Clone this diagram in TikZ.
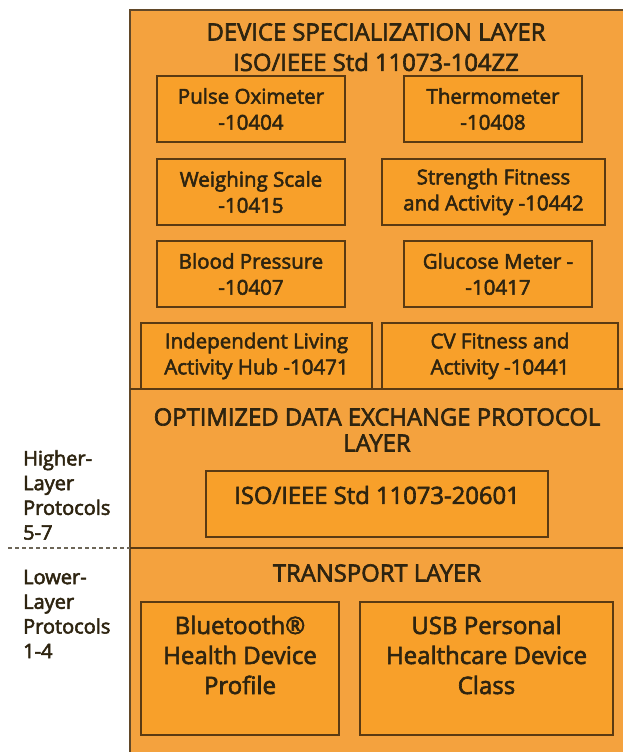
\documentclass[tikz,border=0pt]{standalone}
\usepackage{fontspec}
\setmainfont{Open Sans}[FakeBold=2.6]
\begin{document}
\begin{tikzpicture}[x=1pt,y=-1pt,
  txt/.style={text=textc, align=center, inner sep=0pt},
  title/.style={txt, font=\fontsize{23.8}{30}\selectfont},
  lbl/.style={txt, font=\fontsize{20.5}{26}\selectfont},
  big/.style={txt, font=\fontsize{24}{30}\selectfont},
  side/.style={txt, align=left, anchor=west, font=\fontsize{20}{24.7}\selectfont},
  ibox/.style={draw=edgec, line width=1.6pt, fill=innerc, inner sep=0pt},
]
\definecolor{outerc}{HTML}{F4A23E}
\definecolor{innerc}{HTML}{F8A02A}
\definecolor{edgec}{HTML}{5A3A12}
\definecolor{textc}{HTML}{2E2410}
\useasboundingbox (0,0) rectangle (622,752);
\fill[white] (0,0) rectangle (622,752);
% outer stack
\fill[outerc] (130,10) rectangle (626,756);
\draw[edgec!80!gray, line width=1.8pt] (626,10) -- (130,10) -- (130,756);
\coordinate (d1l) at (130,389);
\coordinate (d1r) at (626,389);
\coordinate (d2l) at (130,548);
\coordinate (d2r) at (626,548);
\draw[edgec, line width=1.6pt] (d1l) -- (d1r);
\draw[edgec, line width=1.6pt] (d2l) -- (d2r);
% device specialization layer
\node[title] (t1) at (376,32) {DEVICE SPECIALIZATION LAYER};
\node[title] (t2) at (376,62) {ISO/IEEE Std 11073-104ZZ};
\node[ibox, lbl, minimum width=188pt, minimum height=66pt] (po) at (251,109) {Pulse Oximeter\\-10404};
\node[ibox, lbl, minimum width=178pt, minimum height=66pt] (th) at (493,109) {Thermometer\\-10408};
\node[ibox, lbl, minimum width=188pt, minimum height=66pt] (ws) at (251,192) {Weighing Scale\\-10415};
\node[ibox, lbl, minimum width=223pt, minimum height=66pt] (sf) at (493.5,192) {Strength Fitness\\and Activity -10442};
\node[ibox, lbl, minimum width=188pt, minimum height=66pt] (bp) at (251,274) {Blood Pressure\\-10407};
\node[ibox, lbl, minimum width=188pt, minimum height=66pt] (gm) at (498,274) {Glucose Meter -\\-10417};
\node[ibox, lbl, minimum width=231pt, minimum height=66pt] (il) at (256.5,356) {Independent Living\\Activity Hub -10471};
\node[ibox, lbl, minimum width=236pt, minimum height=66pt] (cv) at (500,356) {CV Fitness and\\Activity -10441};
% optimized data exchange protocol layer
\node[title] (t3) at (377,417) {OPTIMIZED DATA EXCHANGE PROTOCOL};
\node[title] (t4) at (377,443) {LAYER};
\node[ibox, title, minimum width=342pt, minimum height=66pt] (iso) at (377,504) {};
\node[title] (isol) at (377,495) {ISO/IEEE Std 11073-20601};
% transport layer
\node[title] (t5) at (377,573) {TRANSPORT LAYER};
\node[ibox, minimum width=198pt, minimum height=133pt] (bt) at (240,668.5) {};
\node[big] (btl) at (240,655) {Bluetooth\textregistered\\Health Device\\Profile};
\node[ibox, minimum width=253pt, minimum height=133pt] (usb) at (486.5,668.5) {};
\node[big] (usbl) at (486.5,655) {USB Personal\\Healthcare Device\\Class};
% side labels
\node[side] (hi) at (23,495) {Higher-\\Layer\\Protocols\\5-7};
\node[side] (lo) at (23,614) {Lower-\\Layer\\Protocols\\1-4};
\coordinate (dl) at (8,548);
\draw[textc!70, line width=1.3pt, dash pattern=on 4pt off 3pt] (dl) -- (d2l);
\end{tikzpicture}
\end{document}
